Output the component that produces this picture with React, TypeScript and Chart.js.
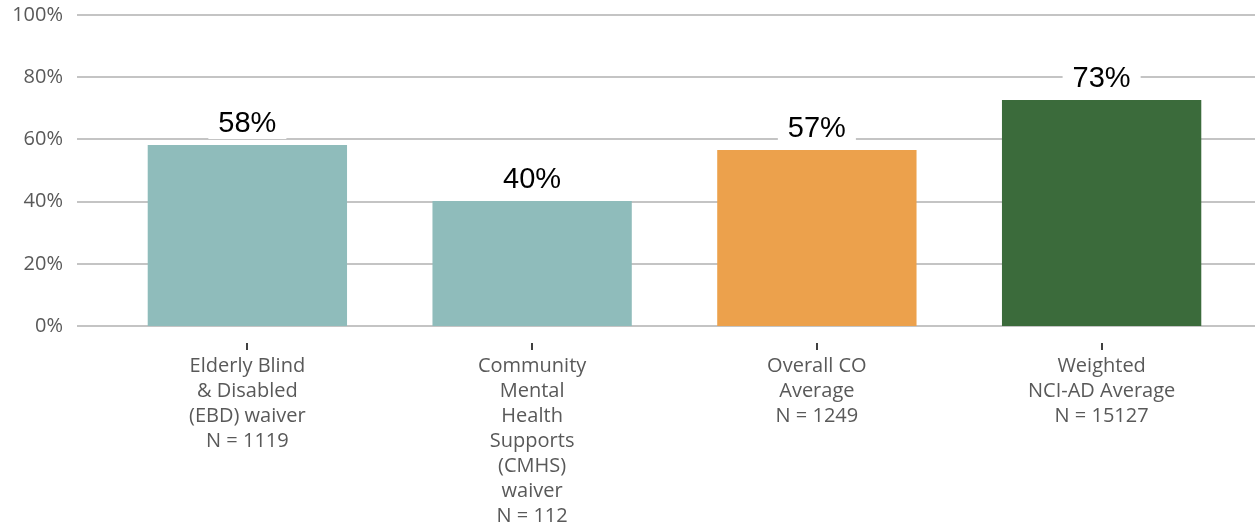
import React, { useEffect, useRef } from "react";
import { Chart, registerables } from "chart.js";

Chart.register(...registerables);

const categories: string[][] = [
  ["Elderly Blind", "& Disabled", "(EBD) waiver", "N = 1119"],
  ["Community", "Mental", "Health", "Supports", "(CMHS)", "waiver", "N = 112"],
  ["Overall CO", "Average", "N = 1249"],
  ["Weighted", "NCI-AD Average", "N = 15127"],
];
const values: number[] = [58.2, 40.2, 56.6, 72.7];
const valueLabels: string[] = ["58%", "40%", "57%", "73%"];
const barColors: string[] = ["#8FBCBB", "#8FBCBB", "#ECA14C", "#3B6B3B"];
const yTicks: number[] = [0, 20, 40, 60, 80, 100];

const gridPlugin = {
  id: "extGrid",
  beforeDatasetsDraw(chart: any) {
    const { ctx } = chart;
    const y = chart.scales.y;
    const x = chart.scales.x;
    ctx.save();
    ctx.strokeStyle = "#C4C4C4";
    ctx.lineWidth = 2;
    for (const t of yTicks) {
      const py = Math.round(y.getPixelForValue(t));
      ctx.beginPath();
      ctx.moveTo(77, py);
      ctx.lineTo(chart.width, py);
      ctx.stroke();
    }
    ctx.strokeStyle = "#404040";
    ctx.lineWidth = 2;
    const base = y.getPixelForValue(0);
    for (let i = 0; i < categories.length; i++) {
      const px = Math.round(x.getPixelForValue(i));
      ctx.beginPath();
      ctx.moveTo(px, base + 17);
      ctx.lineTo(px, base + 24);
      ctx.stroke();
    }
    ctx.restore();
  },
  afterDatasetsDraw(chart: any) {
    const { ctx } = chart;
    const meta = chart.getDatasetMeta(0);
    ctx.save();
    ctx.font = "29px 'Liberation Sans', Arial, sans-serif";
    ctx.textAlign = "center";
    ctx.textBaseline = "middle";
    meta.data.forEach((bar: any, i: number) => {
      const label = valueLabels[i];
      const w = ctx.measureText(label).width;
      const cy = bar.y - 22;
      ctx.fillStyle = "#FFFFFF";
      ctx.fillRect(bar.x - w / 2 - 10, cy - 16, w + 20, 32);
      ctx.fillStyle = "#000000";
      ctx.fillText(label, bar.x, cy + 1);
    });
    ctx.restore();
  },
};

export default function App() {
  const ref = useRef<HTMLCanvasElement | null>(null);
  useEffect(() => {
    if (!ref.current) return;
    const chart = new Chart(ref.current, {
      type: "bar",
      data: {
        labels: categories,
        datasets: [
          {
            data: values,
            backgroundColor: barColors,
            borderWidth: 0,
            categoryPercentage: 1,
            barPercentage: 0.7,
          },
        ],
      },
      options: {
        animation: false,
        responsive: false,
        maintainAspectRatio: false,
        layout: { padding: { top: 15, right: 11, left: 0, bottom: 0 } },
        plugins: {
          legend: { display: false },
          tooltip: { enabled: false },
        },
        scales: {
          x: {
            grid: { display: false, drawTicks: false },
            border: { display: false },
            ticks: {
              color: "#595959",
              font: { family: "'Open Sans', sans-serif", size: 20, lineHeight: 1.25 },
              padding: 28,
              maxRotation: 0,
              autoSkip: false,
            },
            afterFit(scale: any) {
              scale.height = 206;
              scale.paddingTop = 0;
              scale.paddingBottom = 0;
            },
          },
          y: {
            min: 0,
            max: 100,
            grid: { display: false, drawTicks: false },
            border: { display: false },
            ticks: {
              stepSize: 20,
              color: "#595959",
              font: { family: "'Open Sans', sans-serif", size: 20 },
              padding: 42,
              callback: (v: any) => v + "%",
            },
            afterFit(scale: any) {
              scale.width = 105;
              scale.paddingTop = 0;
              scale.paddingBottom = 0;
            },
          },
        },
      },
      plugins: [gridPlugin],
    });
    return () => chart.destroy();
  }, []);
  return (
    <div style={{ position: "fixed", left: 0, top: 0, width: 1255, height: 532, background: "#fff" }}>
      <canvas ref={ref} width={1255} height={532} style={{ display: "block" }} />
    </div>
  );
}
